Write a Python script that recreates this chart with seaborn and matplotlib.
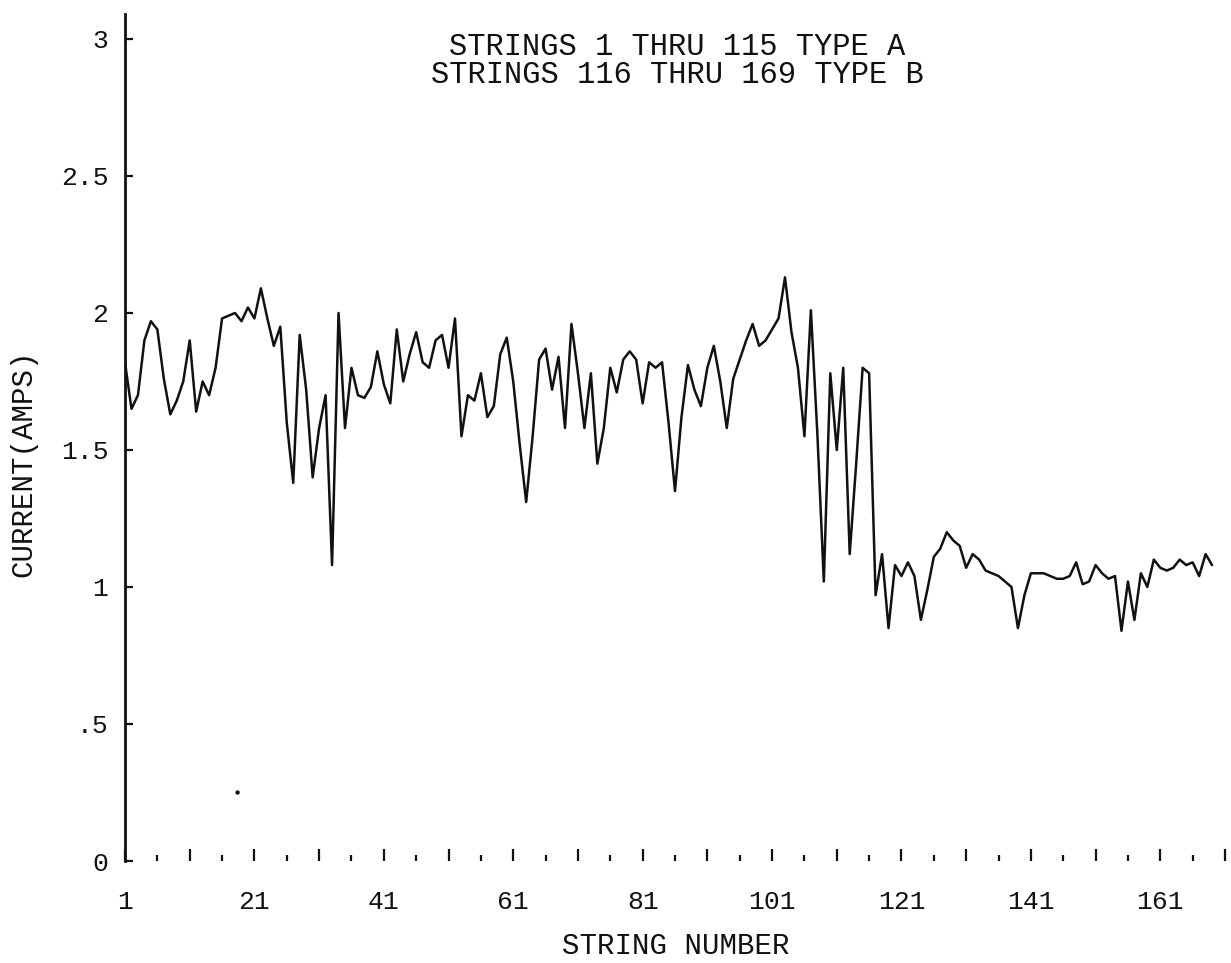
import matplotlib
matplotlib.use("Agg")
import matplotlib.pyplot as plt
import numpy as np
import pandas as pd
import seaborn as sns

# ---- data ----
strings = list(range(1, 170))
current = [
    1.82, 1.65, 1.70, 1.90, 1.97, 1.94, 1.76, 1.63, 1.68, 1.75,   # 1-10
    1.90, 1.64, 1.75, 1.70, 1.80, 1.98, 1.99, 2.00, 1.97, 2.02,   # 11-20
    1.98, 2.09, 1.98, 1.88, 1.95, 1.60, 1.38, 1.92, 1.72, 1.40,   # 21-30
    1.58, 1.70, 1.08, 2.00, 1.58, 1.80, 1.70, 1.69, 1.73, 1.86,   # 31-40
    1.74, 1.67, 1.94, 1.75, 1.85, 1.93, 1.82, 1.80, 1.90, 1.92,   # 41-50
    1.80, 1.98, 1.55, 1.70, 1.68, 1.78, 1.62, 1.66, 1.85, 1.91,   # 51-60
    1.75, 1.52, 1.31, 1.55, 1.83, 1.87, 1.72, 1.84, 1.58, 1.96,   # 61-70
    1.78, 1.58, 1.78, 1.45, 1.58, 1.80, 1.71, 1.83, 1.86, 1.83,   # 71-80
    1.67, 1.82, 1.80, 1.82, 1.60, 1.35, 1.62, 1.81, 1.72, 1.66,   # 81-90
    1.80, 1.88, 1.75, 1.58, 1.76, 1.83, 1.90, 1.96, 1.88, 1.90,   # 91-100
    1.94, 1.98, 2.13, 1.93, 1.80, 1.55, 2.01, 1.56, 1.02, 1.78,   # 101-110
    1.50, 1.80, 1.12, 1.45, 1.80, 1.78, 0.97, 1.12, 0.85, 1.08,   # 111-120
    1.04, 1.09, 1.04, 0.88, 0.99, 1.11, 1.14, 1.20, 1.17, 1.15,   # 121-130
    1.07, 1.12, 1.10, 1.06, 1.05, 1.04, 1.02, 1.00, 0.85, 0.97,   # 131-140
    1.05, 1.05, 1.05, 1.04, 1.03, 1.03, 1.04, 1.09, 1.01, 1.02,   # 141-150
    1.08, 1.05, 1.03, 1.04, 0.84, 1.02, 0.88, 1.05, 1.00, 1.10,   # 151-160
    1.07, 1.06, 1.07, 1.10, 1.08, 1.09, 1.04, 1.12, 1.08,         # 161-169
]
stray_string = [18.4]
stray_current = [0.25]

x_tick_labels = [1, 21, 41, 61, 81, 101, 121, 141, 161]
y_tick_values = [0, 0.5, 1, 1.5, 2, 2.5, 3]
y_tick_labels = ["0", ".5", "1", "1.5", "2", "2.5", "3"]

title_lines = ["STRINGS 1 THRU 115 TYPE A", "STRINGS 116 THRU 169 TYPE B"]
x_title = "STRING NUMBER"
y_title = "CURRENT(AMPS)"

# ---- style ----
sns.set_style("white")
plt.rcParams["font.family"] = ["Liberation Mono", "DejaVu Sans Mono"]
ink = "#111111"

W, H = 1231, 963
fig = plt.figure(figsize=(W / 100, H / 100), dpi=100)
ax = fig.add_axes([125 / W, 102 / H, 1100 / W, 846.7 / H])

df = pd.DataFrame({"string": strings, "current": current})
sns.lineplot(data=df, x="string", y="current", ax=ax, color=ink, linewidth=1.8)
sns.scatterplot(x=stray_string, y=stray_current, ax=ax, color=ink, s=10,
                edgecolor="none", legend=False)

ax.set_xlim(1, 171)
ax.set_ylim(0, 3.09)

for side in ["top", "right", "bottom"]:
    ax.spines[side].set_visible(False)
ax.spines["left"].set_color(ink)
ax.spines["left"].set_linewidth(2.0)

major_x = list(range(1, 172, 10))
ax.set_xticks(major_x)
ax.set_xticklabels([str(t) if t in x_tick_labels else "" for t in major_x])
ax.set_xticks(list(range(6, 172, 10)), minor=True)
ax.tick_params(axis="x", which="both", bottom=True, top=False)
ax.tick_params(axis="x", which="major", direction="in", length=9, width=1.6,
               pad=21, labelsize=19, colors=ink)
ax.tick_params(axis="x", which="minor", direction="in", length=4, width=1.6,
               colors=ink)

ax.set_yticks(y_tick_values)
ax.set_yticklabels(y_tick_labels)
ax.tick_params(axis="y", which="major", left=True, right=False, direction="in",
               length=6, width=1.6, pad=12, labelsize=19, colors=ink)

ax.set_xlabel("")
ax.set_ylabel("")
fig.text(676 / W, 1 - 946 / H, x_title, ha="center", va="center",
         fontsize=21, color=ink)
fig.text(23 / W, 1 - 463 / H, y_title, rotation=90, ha="center", va="center",
         fontsize=21, color=ink)

fig.text(677 / W, 1 - 47 / H, title_lines[0], ha="center", va="center",
         fontsize=22, color=ink)
fig.text(677 / W, 1 - 75 / H, title_lines[1], ha="center", va="center",
         fontsize=22, color=ink)

fig.savefig("out.png", dpi=100)
